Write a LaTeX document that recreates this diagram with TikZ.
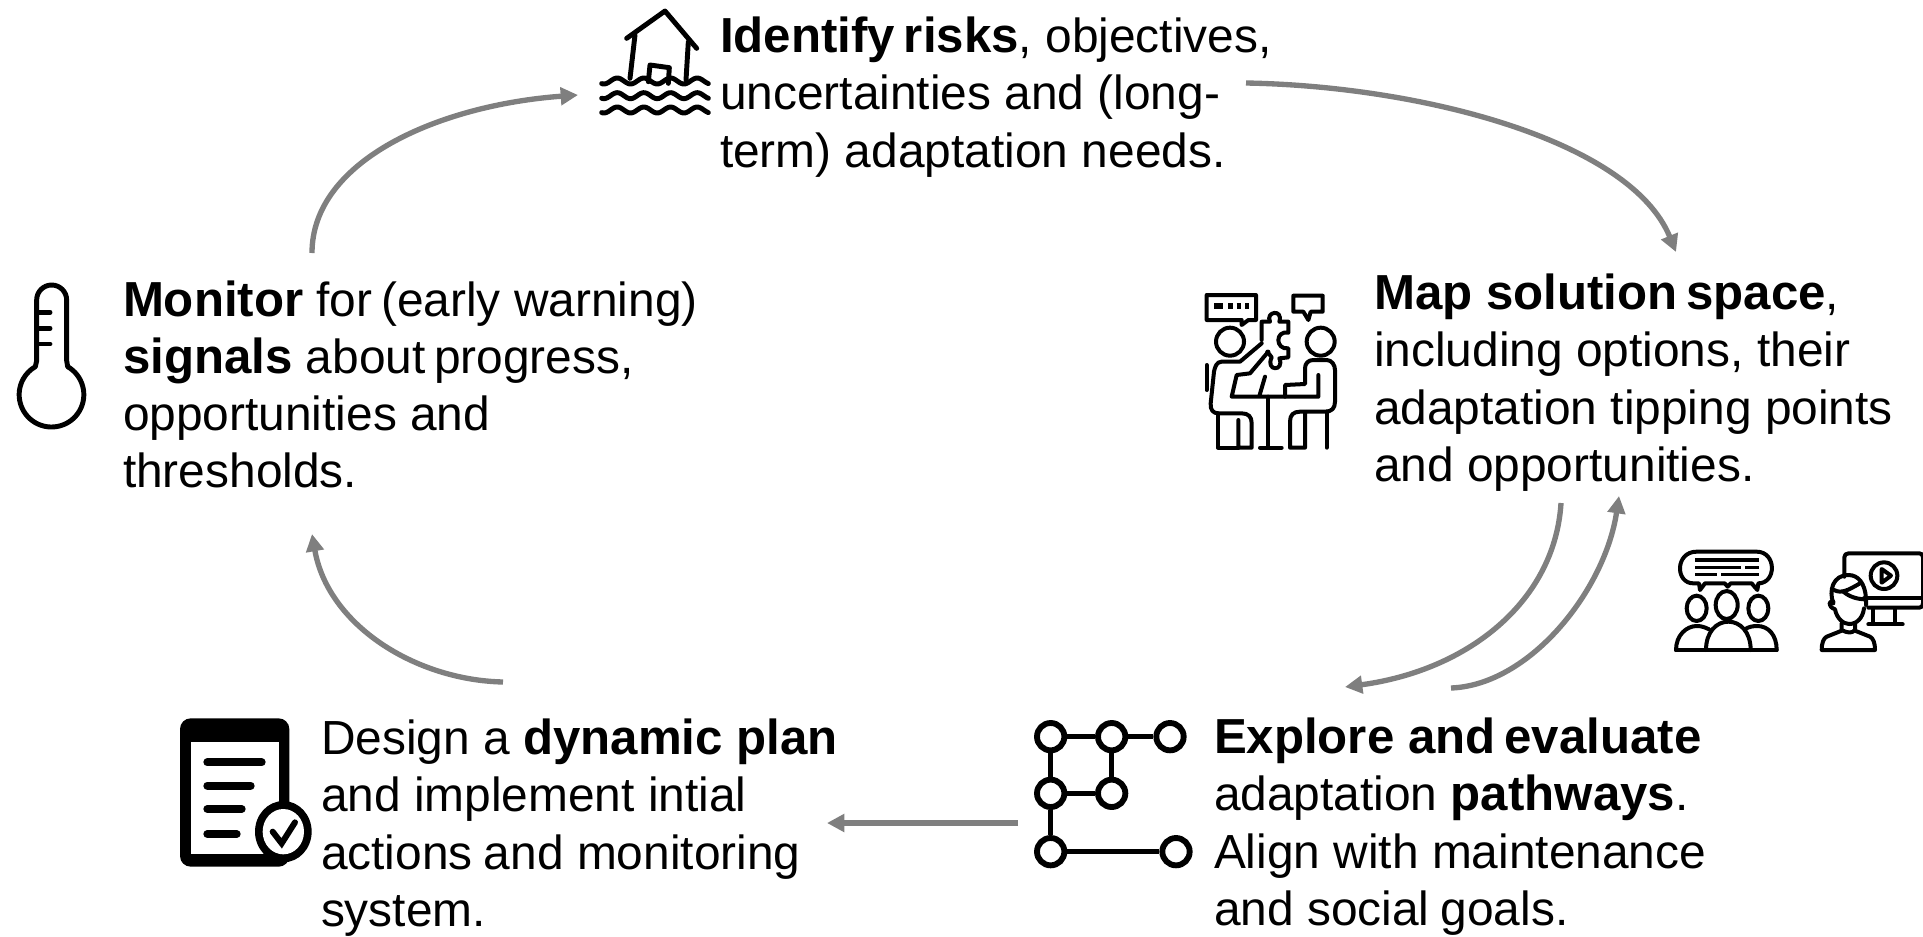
\documentclass[tikz,border=0pt]{standalone}
\usepackage{fontspec}
\setmainfont{Liberation Sans}
\usetikzlibrary{arrows.meta}
\definecolor{arrowgray}{HTML}{7F7F7F}
\newcommand{\fs}{\rule{0pt}{30pt}}
\newcommand{\bb}[1]{{\fontsize{36.9}{42.95}\selectfont\bfseries #1}}
\newcommand{\tg}{\hspace{-3.5pt}}
\newcommand{\tgs}{\hspace{-1.5pt}}
\tikzset{
  txt/.style={anchor=north west,inner sep=0pt,outer sep=0pt,align=left,text=black,font=\fontsize{35.9}{42.95}\selectfont},
  flow/.style={draw=arrowgray,line width=4pt,-{Triangle[length=13pt,width=13pt]},shorten >=0pt},
  icon/.style 2 args={shift={(#1,#2)},x=0.25pt,y=-0.25pt},
  ink/.style={draw=black,line width=3.7pt,line join=round,line cap=round,fill=none},
  thin ink/.style={draw=black,line width=3pt,line join=round,line cap=round,fill=none},
  pw/.style={circle,draw=black,line width=4.4pt,minimum size=20.5pt,inner sep=0pt,fill=white},
  pwl/.style={draw=black,line width=4pt},
}
\begin{document}
\begin{tikzpicture}[x=0.75pt,y=-0.75pt]
\useasboundingbox (0,0) rectangle (1923,936);

% texts
\node[txt] (identify) at (720,12.5) {\fs\bb{Identify\tg\ risks}, objectives,\\uncertainties and (long-\\term) adaptation needs.};
\node[txt] (map) at (1374,269.5) {\fs\bb{Map solution\tg\ space},\\including options, their\\adaptation tipping points\\and opportunities.};
\node[txt] (explore) at (1214,713.5) {\fs\bb{Explore and\tg\ evaluate}\\adaptation \bb{pathways}.\\Align with maintenance\\and social\tgs\ goals.};
\node[txt] (design) at (321,714.5) {\fs Design a \bb{dynamic plan}\\and implement intial\\actions\tgs\ and monitoring\\system.};
\node[txt] (monitor) at (123,276) {\fs\bb{Monitor} for\tg\ (early warning)\\\bb{signals} about\tg\ progress,\\opportunities and\\thresholds.};

% connector ends
\coordinate (a1s) at (1246,83);
\coordinate (a1e) at (1676,252);
\coordinate (a2s) at (1561,503);
\coordinate (a2e) at (1345,687);
\coordinate (a3s) at (1451,688);
\coordinate (a3e) at (1619,496);
\coordinate (a4s) at (1018,823);
\coordinate (a4e) at (827,823);
\coordinate (a5s) at (503,682);
\coordinate (a5e) at (312,534);
\coordinate (a6s) at (312,253);
\coordinate (a6e) at (578,95);

\draw[flow] (a1s) .. controls (1420,86) and (1630,140) .. (a1e);
\draw[flow] (a2s) .. controls (1555,600) and (1470,670) .. (a2e);
\draw[flow] (a3s) .. controls (1530,685) and (1605,590) .. (a3e);
\draw[flow] (a4s) -- (a4e);
\draw[flow] (a5s) .. controls (415,680) and (328,625) .. (a5e);
\draw[flow] (a6s) .. controls (312,160) and (440,105) .. (a6e);

% flooded house
\begin{scope}[icon={580}{0}]
\draw[ink] (140,115) -- (255,33) -- (350,145);
\draw[ink] (165,105) -- (150,235);
\draw[ink] (325,125) -- (318,240);
\draw[ink] (205,245) -- (210,195) -- (268,203) -- (265,250);
\foreach \yy in {243,287,330}
  \draw[ink] plot[domain=65:385,samples=70,smooth] (\x,{\yy+9*sin((\x-65)*4.5+60)});
\end{scope}

% meeting with puzzle
\begin{scope}[icon={1190}{280}]
\draw[thin ink] (155,135) -- (155,120) -- (50,120) -- (50,45) -- (198,45) -- (198,120) -- (175,120) -- cycle;
\draw[black,line width=4pt] (72,78) -- (100,78) (115,78) -- (130,78) (140,78) -- (152,78) (165,78) -- (177,78);
\draw[thin ink] (340,95) -- (310,95) -- (310,47) -- (398,47) -- (398,95) -- (362,95) -- (355,120) -- cycle;
\draw[thin ink] (120,185) circle[radius=42];
\draw[thin ink] (392,185) circle[radius=42];
\draw[thin ink] (215,180) -- (215,125) -- (240,125) .. controls (225,95) and (280,85) .. (268,125) -- (295,125) -- (295,158) .. controls (255,150) and (255,210) .. (295,205) -- (295,232) -- (268,235) .. controls (285,275) and (225,275) .. (245,232) -- (232,215);
\draw[thin ink] (50,255) -- (50,330);
\draw[thin ink] (215,190) -- (150,245) -- (95,245) .. controls (80,245) and (75,260) .. (72,275) -- (62,370) .. controls (60,390) and (70,400) .. (85,400) -- (155,400) .. controls (175,400) and (185,410) .. (185,430) -- (185,503) -- (145,503) -- (145,420);
\draw[thin ink] (84,400) -- (84,503) -- (145,503);
\draw[thin ink] (235,215) -- (180,280) -- (140,285) -- (125,350) -- (385,350) -- (385,285);
\draw[thin ink] (225,290) -- (208,348);
\draw[thin ink] (235,350) -- (235,503) (210,503) -- (275,503);
\draw[thin ink] (285,350) -- (285,315) -- (345,312) -- (345,265) .. controls (345,250) and (355,240) .. (370,240) -- (410,240) .. controls (425,240) and (435,255) .. (435,270) -- (435,365) .. controls (435,385) and (425,395) .. (405,395) -- (330,395) .. controls (310,395) and (300,405) .. (300,425) -- (300,503) -- (345,503) -- (345,400);
\draw[thin ink] (410,395) -- (410,503);
\end{scope}

% thermometer
\begin{scope}[icon={0}{270}]
\draw[ink] (110,90) arc[start angle=180,end angle=360,radius=45] -- (200,272) -- (203,290) arc[start angle=-60,end angle=240,radius=97] -- (110,272) -- cycle;
\draw[ink] (115,127) -- (150,127) (115,175) -- (150,175) (115,222) -- (150,222);
\end{scope}

% plan document
\begin{scope}[icon={170}{705}]
\fill[black,rounded corners=8pt] (30,40) rectangle (358,485);
\fill[white] (62,112) rectangle (328,447);
\draw[black,line width=6pt,line cap=round] (112,172) -- (275,172) (112,242) -- (242,242) (112,312) -- (215,312) (112,387) -- (200,387);
\fill[black] (340,380) ellipse[x radius=85,y radius=92];
\fill[white] (340,380) ellipse[x radius=62,y radius=68];
\draw[black,line width=4.5pt,line cap=round,line join=miter] (308,380) -- (335,415) -- (375,352);
\end{scope}

% pathways
\begin{scope}[icon={1020}{705}]
\node[pw] (p1) at (92,95) {};
\node[pw] (p2) at (275,95) {};
\node[pw] (p3) at (450,95) {};
\node[pw] (p4) at (92,265) {};
\node[pw] (p5) at (275,265) {};
\node[pw] (p6) at (92,440) {};
\node[pw] (p7) at (468,440) {};
\draw[pwl] (p1) -- (p2);
\draw[pwl] (p2) -- (p3);
\draw[pwl] (p1) -- (p4);
\draw[pwl] (p2) -- (p5);
\draw[pwl] (p4) -- (p5);
\draw[pwl] (p4) -- (p6);
\draw[pwl] (p6) -- (p7);
\end{scope}

% group discussion
\begin{scope}[icon={1660}{540}]
\draw[thin ink] (100,130) .. controls (45,130) and (45,35) .. (110,35) -- (290,35) .. controls (350,35) and (350,130) .. (295,130) -- (292,150) -- (275,130) -- (212,130) -- (203,140) -- (194,130) -- (135,130) -- (120,150) -- (117,130) -- cycle;
\draw[black,line width=2.6pt] (105,60) -- (297,60) (105,82) -- (243,82) (255,82) -- (297,82) (105,103) -- (172,103) (183,103) -- (297,103);
\draw[thin ink] (110,205) ellipse[x radius=30,y radius=38];
\draw[thin ink] (200,195) ellipse[x radius=33,y radius=42];
\draw[thin ink] (295,205) ellipse[x radius=30,y radius=38];
\draw[thin ink] (48,330) -- (350,330);
\draw[thin ink] (48,330) .. controls (48,285) and (80,258) .. (110,258) .. controls (125,258) and (135,262) .. (147,268);
\draw[thin ink] (138,330) .. controls (138,275) and (170,245) .. (205,245) .. controls (240,245) and (272,275) .. (272,330);
\draw[thin ink] (255,268) .. controls (265,260) and (280,258) .. (292,258) .. controls (325,258) and (350,285) .. (350,330);
\end{scope}

% presenter with screen
\begin{scope}[icon={1660}{540}]
\draw[thin ink] (553,110) -- (553,52) .. controls (553,44) and (558,40) .. (566,40) -- (778,40) .. controls (785,40) and (789,44) .. (789,52) -- (789,190) .. controls (789,198) and (785,203) .. (778,203) -- (625,203);
\draw[thin ink] (612,175) -- (789,175);
\draw[thin ink] (640,205) -- (640,252) (705,205) -- (705,252) (625,253) -- (728,253);
\draw[thin ink] (672,107) circle[radius=40];
\draw[thin ink] (665,87) -- (693,107) -- (665,128) -- cycle;
\draw[thin ink] (520,190) .. controls (505,150) and (520,105) .. (565,105) .. controls (595,105) and (615,130) .. (618,175) -- (618,195);
\draw[thin ink] (522,150) .. controls (545,162) and (565,150) .. (600,130);
\draw[thin ink] (550,155) .. controls (570,172) and (595,178) .. (618,178);
\draw[thin ink] (520,185) .. controls (505,180) and (503,200) .. (525,208) .. controls (530,235) and (550,252) .. (567,252) .. controls (590,252) and (608,235) .. (612,205);
\draw[thin ink] (545,250) -- (545,270) .. controls (565,280) and (575,280) .. (585,270) -- (585,250);
\draw[thin ink] (545,272) -- (500,290) .. controls (490,295) and (485,310) .. (485,330) -- (645,330) .. controls (645,310) and (640,295) .. (630,290) -- (585,272);
\end{scope}
\end{tikzpicture}
\end{document}
